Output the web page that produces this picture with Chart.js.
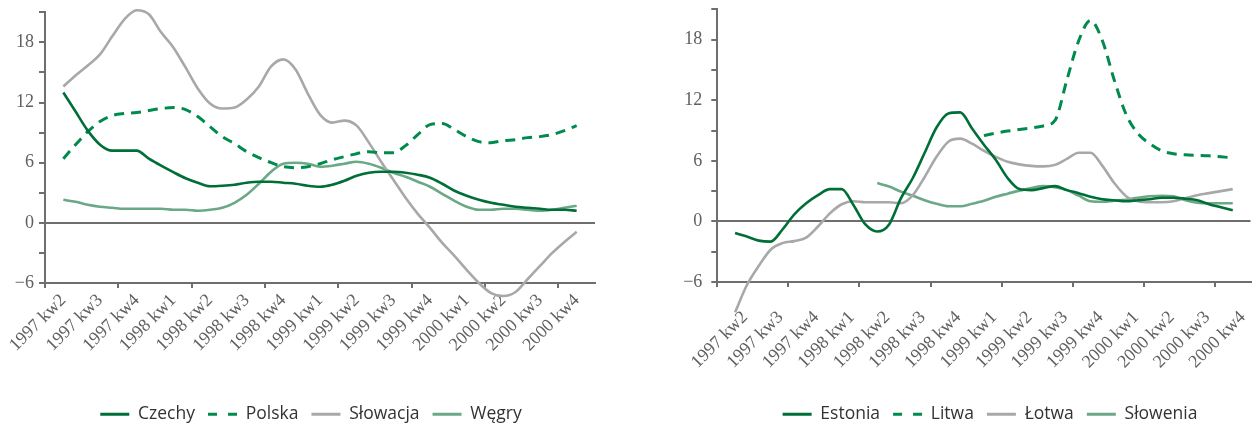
<!DOCTYPE html>
<html>
<head>
<meta charset="utf-8">
<script src="https://cdn.jsdelivr.net/npm/chart.js@4.4.1/dist/chart.umd.min.js"></script>
<style>
  html, body { margin: 0; padding: 0; background: #fff; }
  body { width: 1259px; height: 427px; overflow: hidden; position: relative; }
  .box { position: absolute; top: 0; }
</style>
</head>
<body>
<div class="box" style="left:0"><canvas id="chartLeft" width="620" height="440"></canvas></div>
<div class="box" style="left:640px"><canvas id="chartRight" width="640" height="440"></canvas></div>
<script>
// quarter labels; each quarter holds three monthly points, label sits on the middle month
const quarters = ['1997 kw2', '1997 kw3', '1997 kw4', '1998 kw1', '1998 kw2', '1998 kw3', '1998 kw4',
  '1999 kw1', '1999 kw2', '1999 kw3', '1999 kw4', '2000 kw1', '2000 kw2', '2000 kw3', '2000 kw4'];
const months = quarters.flatMap(q => ['', q, '']);

// left panel
const czechy = [null, 13.0, 11.1, 9.2, 7.8, 7.2, 7.2, 7.2, 6.4, 5.7, 5.05, 4.45, 4.0, 3.65, 3.7,
  3.8, 4.0, 4.1, 4.1, 4.0, 3.9, 3.7, 3.6, 3.8, 4.2, 4.7, 5.0, 5.1, 5.1, 5.0,
  4.8, 4.5, 3.9, 3.2, 2.7, 2.3, 2.0, 1.8, 1.6, 1.5, 1.4, 1.3, 1.3, 1.2, null];
const polska = [null, 6.4, 7.8, 9.1, 10.1, 10.7, 10.9, 11.0, 11.2, 11.4, 11.5, 11.3, 10.6, 9.6, 8.6,
  7.9, 7.1, 6.5, 6.0, 5.6, 5.5, 5.6, 5.9, 6.3, 6.6, 6.9, 7.1, 7.0, 7.0, 7.7,
  8.8, 9.8, 9.9, 9.3, 8.6, 8.1, 8.0, 8.2, 8.3, 8.5, 8.6, 8.8, 9.2, 9.7, null];
const slowacja = [null, 13.6, 14.7, 15.7, 16.8, 18.6, 20.3, 21.2, 20.8, 19.0, 17.5, 15.5, 13.4, 11.9, 11.4,
  11.5, 12.3, 13.6, 15.6, 16.3, 15.3, 12.9, 10.8, 10.0, 10.2, 9.7, 8.0, 6.1, 4.3, 2.5,
  0.9, -0.5, -2.0, -3.3, -4.7, -6.0, -7.0, -7.3, -6.9, -5.6, -4.3, -3.0, -1.9, -0.9, null];
const wegry = [null, 2.3, 2.1, 1.8, 1.6, 1.5, 1.4, 1.4, 1.4, 1.4, 1.3, 1.3, 1.2, 1.3, 1.5,
  2.0, 2.8, 3.9, 5.1, 5.9, 6.0, 5.9, 5.6, 5.7, 5.9, 6.1, 5.9, 5.5, 5.0, 4.6,
  4.1, 3.6, 2.9, 2.2, 1.6, 1.3, 1.3, 1.4, 1.4, 1.3, 1.2, 1.3, 1.5, 1.7, null];

// right panel
const estonia = [null, -1.15, -1.5, -1.9, -2.0, -0.8, 0.7, 1.8, 2.6, 3.2, 3.2, 1.6, -0.3, -1.0, -0.3,
  2.3, 4.3, 6.8, 9.3, 10.7, 10.8, 9.2, 7.6, 6.1, 4.3, 3.2, 3.1, 3.3, 3.5, 3.1,
  2.8, 2.45, 2.2, 2.1, 2.0, 2.1, 2.2, 2.35, 2.35, 2.25, 2.1, 1.7, 1.4, 1.1, null];
const litwa = [null, null, null, null, null, null, null, null, null, null, null, null, null, null, null,
  null, null, null, null, null, null, null, 8.5, 8.75, 8.95, 9.1, 9.25, 9.45, 10.0, 14.0,
  17.9, 19.9, 17.9, 14.0, 10.6, 8.7, 7.7, 7.0, 6.7, 6.6, 6.55, 6.5, 6.4, 6.3, null];
const lotwa = [null, -9.0, -6.3, -4.4, -2.8, -2.15, -1.95, -1.6, -0.5, 0.8, 1.7, 2.0, 1.9, 1.9, 1.9,
  1.8, 2.6, 4.4, 6.4, 7.9, 8.2, 7.7, 7.0, 6.4, 5.9, 5.65, 5.5, 5.45, 5.6, 6.2,
  6.8, 6.8, 5.5, 3.8, 2.5, 2.0, 1.9, 1.9, 2.0, 2.3, 2.6, 2.8, 3.0, 3.2, null];
const slowenia = [null, null, null, null, null, null, null, null, null, null, null, null, null, 3.8, 3.45,
  2.95, 2.55, 2.1, 1.75, 1.5, 1.5, 1.75, 2.05, 2.45, 2.75, 3.05, 3.3, 3.5, 3.4, 3.1,
  2.55, 2.0, 1.95, 2.05, 2.15, 2.35, 2.5, 2.55, 2.5, 2.1, 1.85, 1.8, 1.8, 1.8, null];

const DARK = '#006e37', DASH = '#008a4e', GREY = '#a8a8a8', LIGHT = '#6aa886';
const AXIS = '#6e6e6e';

// moves the bottom legend sideways after layout
const legendShift = {
    id: 'legendShift',
    afterLayout(chart, args, opts) {
        chart.legend.left += opts.dx;
        chart.legend.right += opts.dx;
    }
};

function series(label, data, color, dashed) {
    return {
        label: label,
        data: data,
        borderColor: color,
        backgroundColor: color,
        borderWidth: dashed ? 3 : 2.6,
        borderDash: dashed ? [10, 7] : [],
        pointRadius: 0,
        pointHoverRadius: 0,
        pointStyle: 'line',
        cubicInterpolationMode: 'monotone',
        clip: false
    };
}

// legend swatches: plain stroke, or two dashes for the dashed series
function legendItems(chart) {
    return Chart.defaults.plugins.legend.labels.generateLabels(chart).map(item => {
        const ds = chart.data.datasets[item.datasetIndex];
        item.strokeStyle = ds.borderColor;
        item.lineDash = ds.borderDash.length ? [9, 11] : [];
        item.lineWidth = 3;
        return item;
    });
}

function panel(el, datasets, lay) {
    return new Chart(document.getElementById(el), {
        type: 'line',
        data: { labels: months, datasets: datasets },
        plugins: [legendShift],
        options: {
            responsive: false,
            animation: false,
            layout: { padding: lay.padding },
            plugins: {
                tooltip: { enabled: false },
                legendShift: { dx: lay.legendDx },
                legend: {
                    position: 'bottom',
                    labels: {
                        usePointStyle: true,
                        pointStyleWidth: 29,
                        padding: 13,
                        color: '#333',
                        font: { family: 'Open Sans', size: 17.5 },
                        generateLabels: legendItems
                    }
                }
            },
            scales: {
                x: {
                    offset: true,
                    afterFit: s => { s.height = lay.xHeight; },
                    border: { color: AXIS, width: 2 },
                    grid: {
                        offset: true,
                        drawOnChartArea: false,
                        tickLength: 5,
                        lineWidth: 2,
                        tickColor: c => c.index % 6 === 0 ? AXIS : 'rgba(0,0,0,0)'
                    },
                    ticks: {
                        autoSkip: false,
                        minRotation: 45,
                        maxRotation: 45,
                        padding: lay.xPad,
                        labelOffset: lay.xShift,
                        color: '#606060',
                        font: { family: 'Liberation Sans Narrow', size: 18 }
                    }
                },
                y: {
                    min: -6,
                    max: 21,
                    afterFit: s => { s.width = lay.yWidth; },
                    border: { color: AXIS, width: 2 },
                    grid: {
                        lineWidth: 2,
                        tickLength: 6,
                        tickColor: AXIS,
                        color: c => c.tick && c.tick.value === 0 ? AXIS : 'rgba(0,0,0,0)'
                    },
                    ticks: {
                        stepSize: 3,
                        padding: lay.yPad,
                        color: '#606060',
                        font: { family: 'Liberation Sans Narrow', size: 18, lineHeight: 0.01 },
                        callback: v => v % 6 === 0 ? String(v).replace('-', '\u2212') : ''
                    }
                }
            }
        }
    });
}

panel('chartLeft', [
    series('Czechy', czechy, DARK, false),
    series('Polska', polska, DASH, true),
    series('Słowacja', slowacja, GREY, false),
    series('Węgry', wegry, LIGHT, false)
], { padding: { left: 0, right: 25, top: 12.3, bottom: 7 }, yWidth: 45, xHeight: 109.5, xPad: 2, xShift: 0, yPad: 5, legendDx: 13.5 });

panel('chartRight', [
    series('Estonia', estonia, DARK, false),
    series('Litwa', litwa, DASH, true),
    series('Łotwa', lotwa, GREY, false),
    series('Słowenia', slowenia, LIGHT, false)
], { padding: { left: 0, right: 12, top: 9.4, bottom: 7 }, yWidth: 77.3, xHeight: 110.5, xPad: 20, xShift: 10, yPad: 9, legendDx: 36 });
</script>
</body>
</html>
